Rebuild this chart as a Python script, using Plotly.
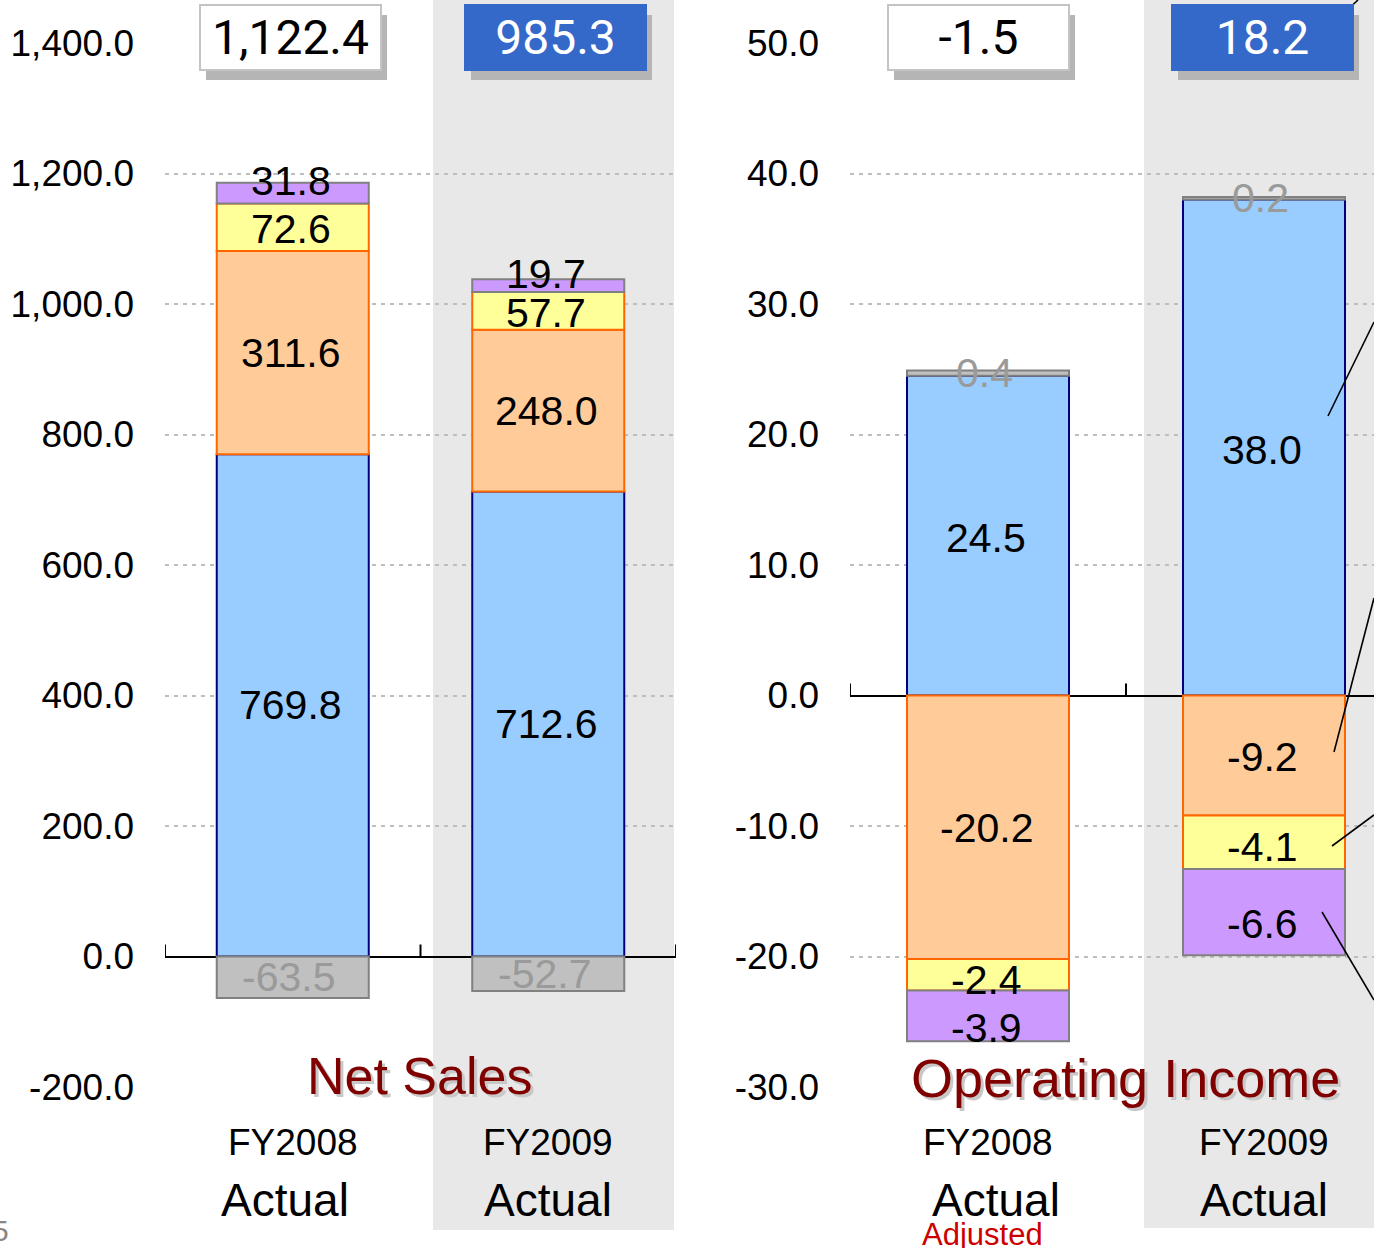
import plotly.graph_objects as go

W, H = 1374, 1248

# ---------------- data ----------------
categories = ["FY2008", "FY2009"]
period_labels = ["Actual", "Actual"]

# Net Sales segments (stack order)
ns_blue = [769.8, 712.6]
ns_orange = [311.6, 248.0]
ns_yellow = [72.6, 57.7]
ns_purple = [31.8, 19.7]
ns_gray = [-63.5, -52.7]
ns_totals = ["1,122.4", "985.3"]
ns_ticks = [-200, 0, 200, 400, 600, 800, 1000, 1200, 1400]

# Operating Income segments (stack order)
oi_blue = [24.5, 38.0]
oi_orange = [-20.2, -9.2]
oi_yellow = [-2.4, -4.1]
oi_purple = [-3.9, -6.6]
oi_gray = [0.4, 0.2]
oi_totals = ["-1.5", "18.2"]
oi_ticks = [-30, -20, -10, 0, 10, 20, 30, 40, 50]

# ---------------- styles ----------------
STYLES = [
    dict(fill="#99CCFF", line="#000080", txt="black"),
    dict(fill="#FFCC99", line="#FF6600", txt="black"),
    dict(fill="#FFFF99", line="#FF6600", txt="black"),
    dict(fill="#CC99FF", line="#808080", txt="black"),
    dict(fill="#C0C0C0", line="#808080", txt="#9A9A9A"),
]
FONT = "Liberation Sans, Arial, sans-serif"


def xp(px):
    return px / W


def yp(py):
    return 1 - py / H


fig = go.Figure()
annotations = []
shapes = []


def ann(**kw):
    d = dict(showarrow=False, xanchor="center", yanchor="middle")
    d.update(kw)
    annotations.append(d)


def add_panel(series, xa, ya, width, label_shifts):
    pos = [0.0] * len(categories)
    neg = [0.0] * len(categories)
    for vals, st, ysh in zip(series, STYLES, label_shifts):
        fig.add_trace(go.Bar(
            x=categories, y=vals, xaxis=xa, yaxis=ya, width=width,
            marker=dict(color=st["fill"], line=dict(color=st["line"], width=2)),
            showlegend=False, hoverinfo="skip",
        ))
        for i, v in enumerate(vals):
            if v >= 0:
                c = pos[i] + v / 2
                pos[i] += v
            else:
                c = neg[i] + v / 2
                neg[i] += v
            ann(x=i, y=c, xref=xa, yref=ya, text=f"{v:.1f}", yshift=ysh,
                xshift=-2 if st["txt"] == "black" else -4,
                font=dict(family=FONT, size=41, color=st["txt"]))


add_panel([ns_blue, ns_orange, ns_yellow, ns_purple, ns_gray], "x", "y", 0.595,
          [0, 0, -2, 12, 0])
add_panel([oi_blue, oi_orange, oi_yellow, oi_purple, oi_gray], "x2", "y2", 0.587,
          [-2, -1, -5, -12, 0])

# ---------------- totals boxes ----------------
def total_box(xa, i, text, blue, xshift):
    ann(x=i, y=yp(42), xref=xa, yref="paper", text=" ",
        width=181, height=65, bgcolor="#B5B5B5", borderpad=0, borderwidth=0,
        xshift=xshift + 6, yshift=-6)
    ann(x=i, y=yp(37), xref=xa, yref="paper", text=text,
        width=179, height=63, borderpad=0, borderwidth=2,
        bgcolor="#3469C9" if blue else "white",
        bordercolor="#3469C9" if blue else "#C4C4C4",
        xshift=xshift,
        font=dict(family="Roboto, sans-serif", size=48,
                  color="white" if blue else "black"))


total_box("x", 0, ns_totals[0], False, -2)
total_box("x", 1, ns_totals[1], True, 7)
total_box("x2", 0, oi_totals[0], False, -10)
total_box("x2", 1, oi_totals[1], True, -2)

# ---------------- titles and category labels ----------------
def title(xc, yc, text, size):
    ann(x=xp(xc), y=yp(yc), xref="paper", yref="paper", text=text,
        xshift=3, yshift=-3, font=dict(family=FONT, size=size, color="#C8C8C8"))
    ann(x=xp(xc), y=yp(yc), xref="paper", yref="paper", text=text,
        font=dict(family=FONT, size=size, color="#800000"))


title(419, 1076, "Net Sales", 52)
title(1125, 1078, "Operating Income", 54)

for xa, shifts in (("x", (-8, 0)), ("x2", (8, 0))):
    for i, (c, p) in enumerate(zip(categories, period_labels)):
        ann(x=i, y=yp(1142), xref=xa, yref="paper", text=c,
            font=dict(family=FONT, size=37, color="black"))
        ann(x=i, y=yp(1200), xref=xa, yref="paper", text=p, xshift=shifts[i],
            font=dict(family=FONT, size=46, color="black"))

ann(x=xp(982), y=yp(1234), xref="paper", yref="paper", text="Adjusted",
    font=dict(family=FONT, size=31, color="#CC0000"))
ann(x=0, y=yp(1230), xref="paper", yref="paper", text="5",
    font=dict(family=FONT, size=30, color="#888888"))

# ---------------- background bands ----------------
shapes.append(dict(type="rect", xref="paper", yref="paper", layer="below",
                   x0=xp(433), x1=xp(674), y0=yp(1230), y1=1,
                   fillcolor="#E8E8E8", line=dict(width=0)))
shapes.append(dict(type="rect", xref="paper", yref="paper", layer="below",
                   x0=xp(1144), x1=1, y0=yp(1228), y1=1,
                   fillcolor="#E8E8E8", line=dict(width=0)))

# zero-line tick marks at category boundaries
for xa, ya, bounds in (("x", "y", (-0.5, 0.5, 1.5)), ("x2", "y2", (-0.5, 0.5))):
    for b in bounds:
        shapes.append(dict(type="line", xref=xa, yref=ya, x0=b, x1=b,
                           ysizemode="pixel", yanchor=0, y0=0, y1=12,
                           line=dict(color="black", width=2)))

# leader lines toward an off-image legend
for (ax0, ay0, ax1, ay1) in ((1328, 28, 1358, 0), (1328, 416, 1374, 322),
                             (1334, 752, 1374, 598), (1332, 846, 1374, 815),
                             (1322, 912, 1374, 1000)):
    shapes.append(dict(type="line", xref="paper", yref="paper",
                       x0=xp(ax0), y0=yp(ay0), x1=xp(ax1), y1=yp(ay1),
                       line=dict(color="black", width=1.6)))

# ---------------- axes ----------------
ydom = [yp(1087), yp(43)]
grid = dict(showgrid=True, gridcolor="#BEBEBE", gridwidth=2, griddash="4px,5px",
            zeroline=True, zerolinecolor="black", zerolinewidth=2,
            showline=False, ticks="", ticklabelstandoff=30,
            tickfont=dict(family=FONT, size=37, color="black"))
xbase = dict(type="category", showgrid=False, zeroline=False, showline=False,
             showticklabels=False, ticks="")

fig.update_layout(
    width=W, height=H, autosize=False,
    margin=dict(l=0, r=0, t=0, b=0, pad=0, autoexpand=False),
    paper_bgcolor="white", plot_bgcolor="rgba(0,0,0,0)",
    barmode="relative",
    xaxis=dict(xbase, domain=[xp(165), xp(676)], range=[-0.5, 1.5], anchor="y"),
    yaxis=dict(grid, domain=ydom, range=[-200, 1400], anchor="x",
               tickvals=ns_ticks, ticktext=[f"{t:,.1f}" for t in ns_ticks]),
    xaxis2=dict(xbase, domain=[xp(850), 1], range=[-0.5, (W - 850) / 276 - 0.5],
                anchor="y2"),
    yaxis2=dict(grid, domain=ydom, range=[-30, 50], anchor="x2",
                tickvals=oi_ticks, ticktext=[f"{t:,.1f}" for t in oi_ticks]),
    annotations=annotations,
    shapes=shapes,
)

fig.write_html("out.html")
